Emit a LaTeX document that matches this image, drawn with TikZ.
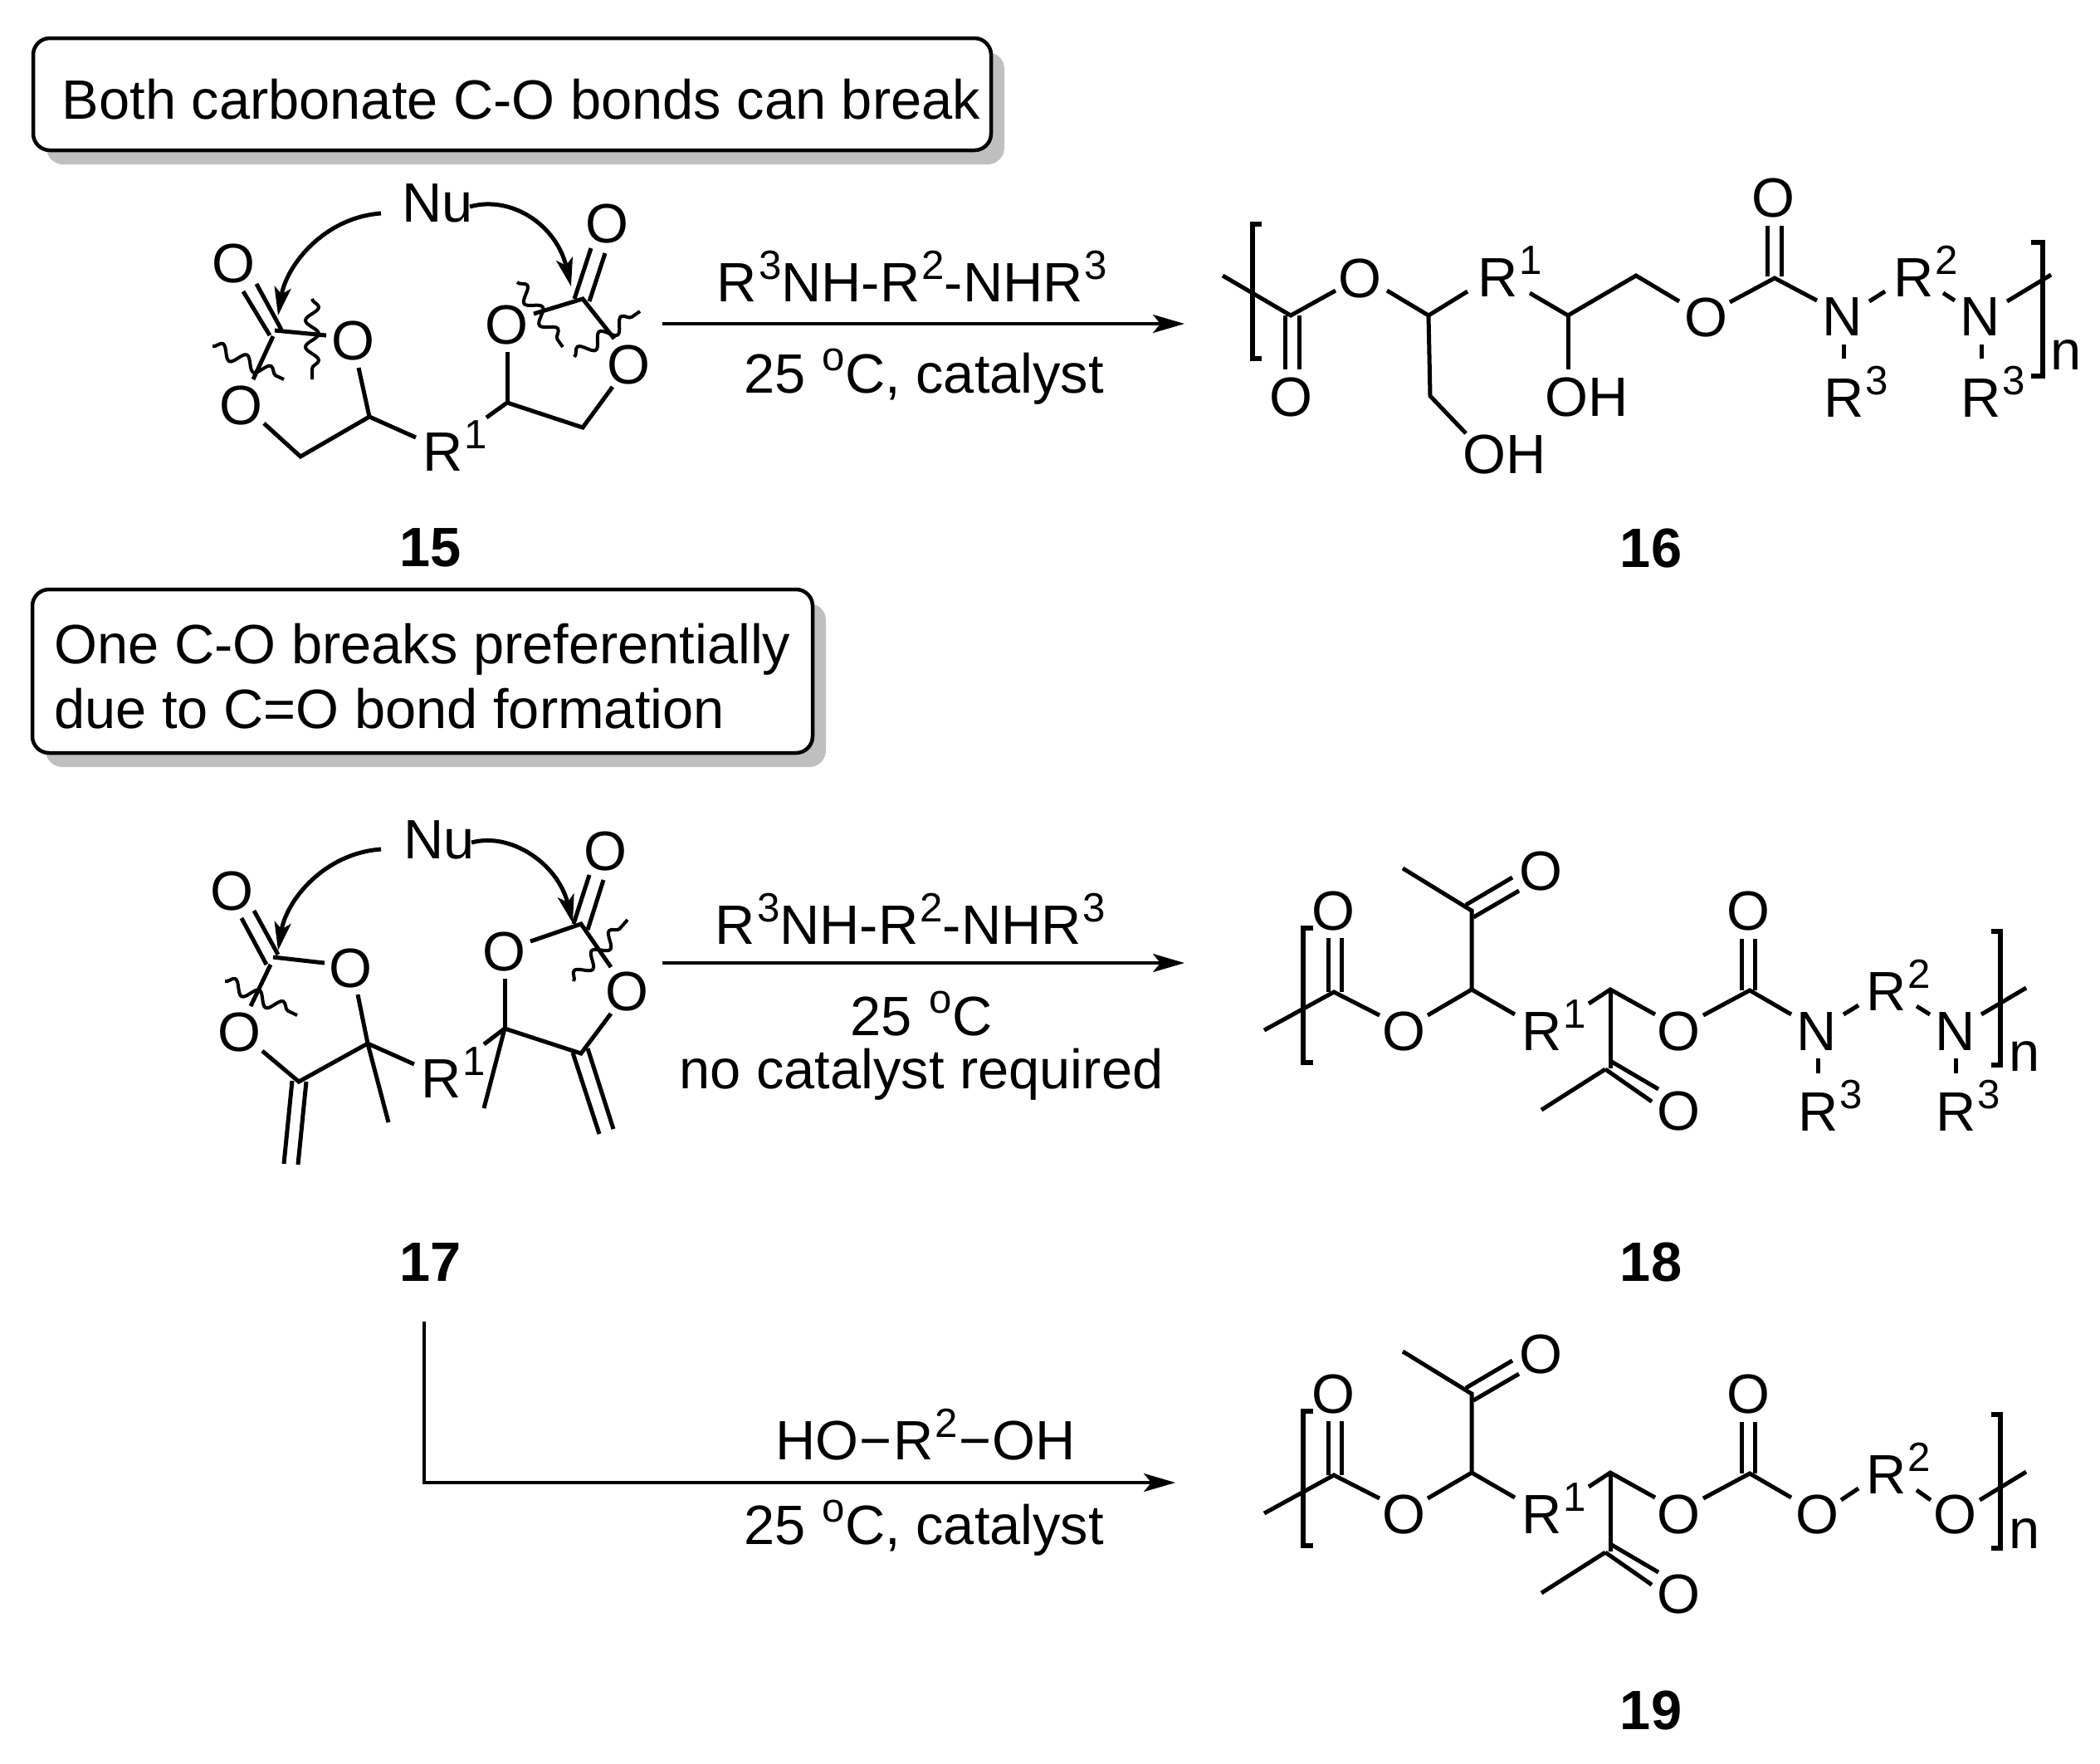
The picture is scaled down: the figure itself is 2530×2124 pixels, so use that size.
\documentclass[tikz,border=0pt]{standalone}
\usepackage{fontspec}
\setmainfont{Liberation Sans}
\usetikzlibrary{arrows.meta,decorations.pathmorphing,shadows}
\newcommand\supr[1]{\kern0.2mm\raisebox{2.7mm}{\fontsize{14pt}{14pt}\selectfont #1}}
\newcommand\longdash{\kern0.12mm\symbol{"2212}\kern0.12mm}
\tikzset{
	bond/.style={line width=0.5mm},
	brack/.style={line width=0.55mm},
	wavy/.style={line width=0.4mm, decorate, decoration={snake, segment length=3.2mm, amplitude=0.8mm}},
	curly/.style={line width=0.5mm, -{Stealth[length=3.4mm, width=2mm, inset=0.8mm]}},
	rxn/.style={line width=0.35mm, -{Stealth[length=3.8mm, width=2.2mm, inset=0.9mm]}},
	atom/.style={inner sep=0pt, font=\fontsize{19pt}{21pt}\selectfont},
	sub/.style={atom, anchor=base west},
	cmpd/.style={inner sep=0pt, font=\fontsize{19pt}{21pt}\selectfont\bfseries},
	rxntext/.style={inner sep=0pt, anchor=base, font=\fontsize{19pt}{21pt}\selectfont},
	notebox/.style={draw, fill=white, line width=0.45mm, rounded corners=2mm, inner sep=0pt, align=left,
		font=\fontsize{19pt}{21pt}\selectfont,
		general shadow={shadow xshift=1.6mm, shadow yshift=-1.7mm, fill=black!25}}
}
% shared chain of 18 and 19, up to the second carbonyl
\newcommand\ketochain[1]{
	\draw[brack] (1582,1118) -- (1570,1118) -- (1570,1280) -- (1582,1280);
	\draw[brack] (2399,1122) -- (2410,1122) -- (2410,1283) -- (2399,1283);
	\draw[bond] (1523,1241) -- (1607,1195) -- (1662,1223);
	\draw[bond] (1600,1195) -- (1600,1130);
	\draw[bond] (1616,1195) -- (1616,1130);
	\node[atom] (#1o1) at (1606,1097) {O};
	\node[atom] (#1o2) at (1691,1242) {O};
	\draw[bond] (1720,1223) -- (1773,1192) -- (1825,1222);
	\draw[bond] (1773,1192) -- (1773,1097) -- (1690,1046);
	\draw[bond] (1766,1090) -- (1822,1057);
	\draw[bond] (1775,1105) -- (1830,1073);
	\node[atom] (#1o3) at (1856,1049) {O};
	\node[sub] (#1r1) at (1833,1265) {R\supr{1}};
	\draw[bond] (1914,1209) -- (1940,1192) -- (1994,1222);
	\draw[bond] (1940,1192) -- (1940,1287);
	\draw[bond] (1940,1278) -- (1998,1312);
	\draw[bond] (1934,1288) -- (1990,1327);
	\draw[bond] (1934,1288) -- (1857,1337);
	\node[atom] (#1o4) at (2022,1338) {O};
	\node[atom] (#1o5) at (2022,1242) {O};
	\draw[bond] (2052,1223) -- (2108,1193) -- (2158,1222);
	\draw[bond] (2098,1193) -- (2098,1131);
	\draw[bond] (2114,1193) -- (2114,1131);
	\node[atom] (#1o6) at (2106,1097) {O};
}
\begin{document}
\begin{tikzpicture}[x=0.1mm, y=-0.1mm]
		\useasboundingbox (0,0) rectangle (2530,2124);
		%%%%% START %%%%%

		\node[notebox, minimum width=115.4mm, minimum height=13.5mm] (note1) at (617,113.5) {\rule{0pt}{6.1mm}\hspace*{2.2mm}Both carbonate C-O bonds can break};
		\node[notebox, minimum width=94mm, minimum height=19.7mm] (note2) at (509,808.5) {\rule{0pt}{6.1mm}One C-O breaks preferentially\\[0.4mm]due to C=O bond formation};

		%%%%% 15 %%%%%
		\node[atom] (nu1) at (527,245) {Nu};
		\draw[curly] (459,257) .. controls (390,262) and (345,320) .. (335,380);
		\draw[curly] (566,249) .. controls (615,235) and (670,270) .. (688,345);

		\node[atom] (a1) at (281,317) {O};
		\draw[bond] (293,351) -- (325,404);
		\draw[bond] (309,342) -- (339,397);
		\draw[bond] (331,398) -- (393,404);
		\draw[bond] (329,405) -- (305,457);
		\node[atom] (a2) at (425,410) {O};
		\node[atom] (a3) at (290,488) {O};
		\draw[bond] (318,510) -- (362,550) -- (445,502) -- (432,443);
		\draw[bond] (445,502) -- (501,527);
		\node[sub] (a4) at (509,567) {R\supr{1}};
		\draw[bond] (586,503) -- (611,485) -- (702,515) -- (738,466);
		\draw[bond] (611,485) -- (611,424);
		\node[atom] (a5) at (610,391) {O};
		\node[atom] (a6) at (757,439) {O};
		\draw[bond] (643,378) -- (702,360) -- (740,408);
		\draw[bond] (692,360) -- (712,299);
		\draw[bond] (710,363) -- (729,305);
		\node[atom] (a7) at (731,269) {O};
		\draw[wavy] (376,360) -- (376,457);
		\draw[wavy] (256,417) -- (342,457);
		\draw[wavy] (623,340) -- (678,418);
		\draw[wavy] (692,430) -- (771,375);
		\node[cmpd] (c15) at (519,660) {15};

		\draw[rxn] (798,390) -- (1427,390);
		\node[rxntext] (t1) at (1099,363) {R\supr{3}NH-R\supr{2}-NHR\supr{3}};
		\node[rxntext] (t2) at (1113,473) {25 \supr{o}C, catalyst};

		%%%%% 16 %%%%%
		\draw[brack] (1520,270) -- (1509,270) -- (1509,432) -- (1520,432);
		\draw[brack] (2447,292) -- (2461,292) -- (2461,453) -- (2447,453);
		\draw[bond] (1473,332) -- (1555,380) -- (1609,350);
		\draw[bond] (1548,380) -- (1548,445);
		\draw[bond] (1565,380) -- (1565,445);
		\node[atom] (b1) at (1638,335) {O};
		\node[atom] (b2) at (1555,478) {O};
		\draw[bond] (1671,350) -- (1721,380) -- (1768,351);
		\node[sub] (b3) at (1780,357) {R\supr{1}};
		\draw[bond] (1721,380) -- (1723,477) -- (1766,522);
		\node[atom] (b4) at (1813,547) {OH};
		\draw[bond] (1843,353) -- (1889,380) -- (1971,332) -- (2023,363);
		\draw[bond] (1889,380) -- (1889,445);
		\node[atom] (b5) at (1912,478) {OH};
		\node[atom] (b6) at (2055,382) {O};
		\draw[bond] (2084,364) -- (2138,335) -- (2189,362);
		\draw[bond] (2129,333) -- (2129,272);
		\draw[bond] (2146,333) -- (2146,272);
		\node[atom] (b7) at (2136,238) {O};
		\node[atom] (b8) at (2220,382) {N};
		\draw[bond] (2252,363) -- (2271,351);
		\node[sub] (b9) at (2281,357) {R\supr{2}};
		\draw[bond] (2341,353) -- (2355,362);
		\node[atom] (b10) at (2386,382) {N};
		\draw[bond] (2418,363) -- (2471,331);
		\draw[bond] (2221,415) -- (2221,432);
		\draw[bond] (2387,415) -- (2387,432);
		\node[sub] (b11) at (2197,502) {R\supr{3}};
		\node[sub] (b12) at (2362,502) {R\supr{3}};
		\node[sub] (b13) at (2470,445) {n};
		\node[cmpd] (c16) at (1989,660) {16};

		%%%%% 17 %%%%%
		\node[atom] (nu2) at (529,1012) {Nu};
		\draw[curly] (459,1023) .. controls (390,1028) and (345,1085) .. (335,1145);
		\draw[curly] (568,1015) .. controls (615,1002) and (672,1040) .. (690,1112);

		\node[atom] (d1) at (279,1073) {O};
		\draw[bond] (291,1106) -- (321,1162);
		\draw[bond] (306,1097) -- (335,1150);
		\draw[bond] (329,1153) -- (391,1160);
		\draw[bond] (326,1162) -- (302,1212);
		\node[atom] (d2) at (422,1166) {O};
		\node[atom] (d3) at (288,1243) {O};
		\draw[bond] (316,1266) -- (360,1303) -- (443,1257) -- (431,1198);
		\draw[bond] (443,1257) -- (499,1282);
		\draw[bond] (443,1257) -- (468,1352);
		\draw[bond] (352,1302) -- (342,1402);
		\draw[bond] (369,1303) -- (359,1403);
		\node[sub] (d4) at (507,1322) {R\supr{1}};
		\draw[bond] (583,1258) -- (608,1239) -- (700,1269) -- (736,1221);
		\draw[bond] (608,1239) -- (608,1179);
		\draw[bond] (608,1239) -- (583,1335);
		\draw[bond] (690,1268) -- (722,1366);
		\draw[bond] (708,1263) -- (739,1360);
		\node[atom] (d5) at (607,1146) {O};
		\node[atom] (d6) at (755,1194) {O};
		\draw[bond] (639,1134) -- (700,1113) -- (736,1165);
		\draw[bond] (691,1113) -- (710,1054);
		\draw[bond] (708,1120) -- (727,1060);
		\node[atom] (d7) at (729,1025) {O};
		\draw[wavy] (271,1182) -- (358,1223);
		\draw[wavy] (691,1182) -- (756,1108);
		\node[cmpd] (c17) at (519,1520) {17};

		\draw[rxn] (798,1160) -- (1427,1160);
		\node[rxntext] (t3) at (1097,1137) {R\supr{3}NH-R\supr{2}-NHR\supr{3}};
		\node[rxntext] (t4) at (1110,1247) {25 \supr{o}C};
		\node[rxntext] (t5) at (1110,1311) {no catalyst required};

		%%%%% 18 %%%%%
		\ketochain{e}
		\node[atom] (e7) at (2189,1242) {N};
		\draw[bond] (2221,1222) -- (2239,1211);
		\node[sub] (e8) at (2248,1217) {R\supr{2}};
		\draw[bond] (2309,1212) -- (2325,1222);
		\node[atom] (e9) at (2356,1242) {N};
		\draw[bond] (2387,1222) -- (2441,1190);
		\draw[bond] (2190,1275) -- (2190,1293);
		\draw[bond] (2356,1275) -- (2356,1293);
		\node[sub] (e10) at (2166,1362) {R\supr{3}};
		\node[sub] (e11) at (2332,1362) {R\supr{3}};
		\node[sub] (e12) at (2420,1290) {n};
		\node[cmpd] (c18) at (1989,1520) {18};

		%%%%% 17 to 19 %%%%%
		\draw[rxn] (511,1592) -- (511,1786) -- (1416,1786);
		\node[rxntext] (t6) at (1115,1758) {HO\longdash R\supr{2}\longdash OH};
		\node[rxntext] (t7) at (1113,1860) {25 \supr{o}C, catalyst};

		%%%%% 19 %%%%%
		\begin{scope}[shift={(0,582)}]
			\ketochain{f}
		\end{scope}
		\node[atom] (f7) at (2189,1824) {O};
		\draw[bond] (2218,1807) -- (2239,1793);
		\node[sub] (f8) at (2248,1799) {R\supr{2}};
		\draw[bond] (2309,1795) -- (2326,1807);
		\node[atom] (f9) at (2355,1824) {O};
		\draw[bond] (2385,1807) -- (2441,1773);
		\node[sub] (f10) at (2420,1865) {n};
		\node[cmpd] (c19) at (1989,2060) {19};

		%%%%% END %%%%%
	\end{tikzpicture}
\end{document}
